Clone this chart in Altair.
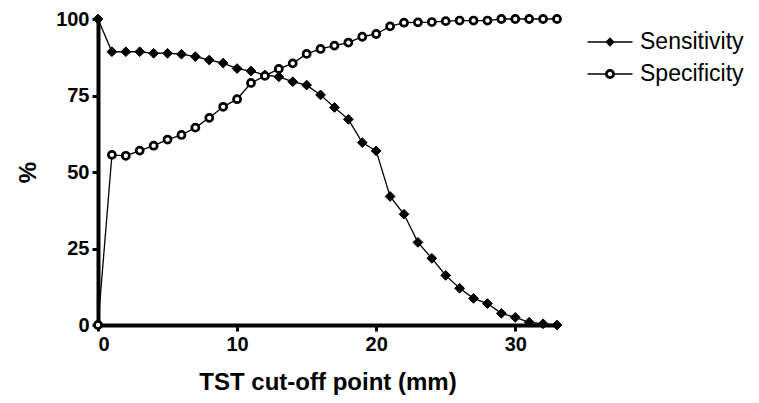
import altair as alt
import pandas as pd

cutoff = list(range(0, 34))
sensitivity = [100, 89.3, 89.3, 89.3, 88.8, 88.8, 88.5, 87.7, 86.6, 85.6,
               83.8, 83.0, 81.7, 81.1, 79.5, 78.4, 75.2, 71.1, 67.2, 59.6,
               56.9, 42.0, 36.2, 27.0, 21.8, 16.2, 12.0, 8.7, 7.0, 3.8,
               2.5, 0.9, 0.4, 0.0]
specificity = [0, 55.6, 55.3, 57.0, 58.6, 60.6, 62.1, 64.5, 67.7, 71.3,
               73.8, 79.1, 81.4, 83.7, 85.5, 88.6, 90.2, 91.3, 92.3, 94.2,
               95.1, 97.6, 98.8, 98.9, 99.0, 99.3, 99.5, 99.5, 99.5, 100,
               100, 100, 100, 100]
series_names = ["Sensitivity", "Specificity"]
x_ticks = [0, 10, 20, 30]
y_ticks = [0, 25, 50, 75, 100]

rows = []
for name, vals in zip(series_names, [sensitivity, specificity]):
    for c, v in zip(cutoff, vals):
        rows.append({"cutoff": c, "value": v, "series": name})
df = pd.DataFrame(rows)

FONT = "Liberation Sans"

x_enc = alt.X("cutoff:Q",
              scale=alt.Scale(domain=[0, 33], nice=False, zero=False),
              axis=alt.Axis(values=x_ticks, title="TST cut-off point (mm)",
                            titlePadding=16))
y_enc = alt.Y("value:Q",
              scale=alt.Scale(domain=[0, 100], nice=False),
              axis=alt.Axis(values=y_ticks, title="%", titlePadding=15))

lines = alt.Chart(df).mark_line(color="black", strokeWidth=1.3).encode(
    x=x_enc, y=y_enc, detail="series:N"
)

points = alt.Chart(df).mark_point(filled=False, stroke="black", opacity=1).encode(
    x=x_enc, y=y_enc,
    shape=alt.Shape("series:N", scale=alt.Scale(domain=series_names, range=["diamond", "circle"]), legend=None),
    fill=alt.Fill("series:N", scale=alt.Scale(domain=series_names, range=["black", "white"]), legend=None),
    size=alt.Size("series:N", scale=alt.Scale(domain=series_names, range=[95, 50]), legend=None),
    strokeWidth=alt.StrokeWidth("series:N", scale=alt.Scale(domain=series_names, range=[1, 2.7]), legend=None),
    order=alt.Order("series:N"),
)

# legend symbols drawn as filled shapes: a thin bar (line) with the series marker
sens_path = ("M-1.5,-0.05L1.5,-0.05L1.5,0.05L-1.5,0.05Z"
             "M0,-0.31L0.31,0L0,0.31L-0.31,0Z")
spec_path = ("M-1.5,-0.05L-0.3,-0.05L-0.3,0.05L-1.5,0.05Z"
             "M0.3,-0.05L1.5,-0.05L1.5,0.05L0.3,0.05Z"
             "M-0.33,0A0.33,0.33 0 1,1 0.33,0A0.33,0.33 0 1,1 -0.33,0Z"
             "M-0.15,0A0.15,0.15 0 1,0 0.15,0A0.15,0.15 0 1,0 -0.15,0Z")

leg = alt.Legend(title=None, orient="none", legendX=497, legendY=8,
                 symbolSize=900, symbolOpacity=1,
                 symbolFillColor="black", symbolStrokeWidth=0,
                 labelFont=FONT, labelFontSize=23, labelColor="black",
                 labelOffset=15, rowPadding=5, padding=0)

legend_layer = alt.Chart(df).mark_point(filled=True, color="black", opacity=1).encode(
    x=x_enc, y=y_enc,
    shape=alt.Shape("series:N", scale=alt.Scale(domain=series_names, range=[sens_path, spec_path]),
                    legend=leg),
).transform_filter("datum.cutoff < 0")

chart = alt.layer(lines, points, legend_layer).resolve_scale(
    shape="independent", fill="independent", size="independent", strokeWidth="independent"
).properties(
    width=459, height=306,
    autosize=alt.AutoSizeParams(type="none"),
    padding={"left": 90, "top": 11, "right": 190, "bottom": 70},
).configure_view(stroke=None).configure_axis(
    grid=False, domainColor="black", domainWidth=4, tickColor="black",
    tickWidth=3, tickSize=6, labelFont=FONT, labelFontSize=20, labelFontWeight="bold",
    labelColor="black", titleFont=FONT, titleFontSize=24, titleFontWeight="bold",
    titleColor="black", labelPadding=3, domainCap="square",
)

chart.save("out.html", embed_options={"renderer": "svg", "actions": False})
